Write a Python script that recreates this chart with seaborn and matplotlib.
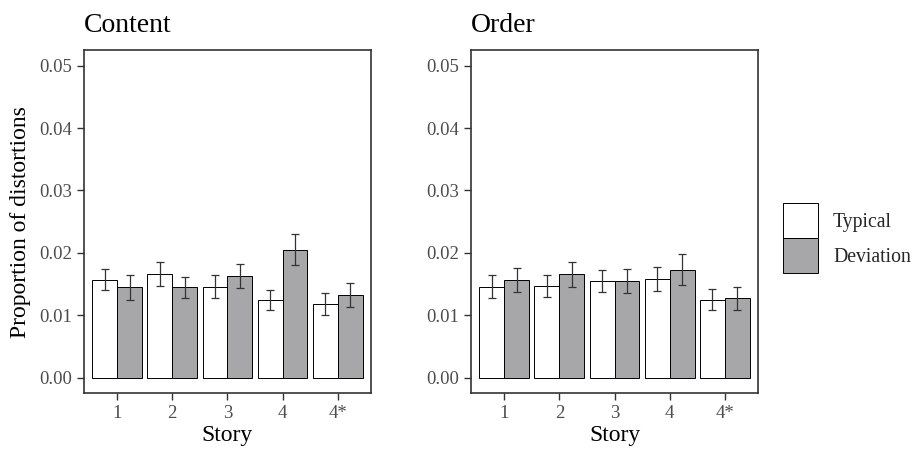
import matplotlib
matplotlib.use("Agg")
import matplotlib.pyplot as plt
import seaborn as sns
import pandas as pd

# values
stories = ["1", "2", "3", "4", "4*"]
conditions = ["Typical", "Deviation"]

content_typical = [0.0157, 0.0166, 0.0146, 0.0125, 0.0118]
content_typical_err = [0.0017, 0.0019, 0.0018, 0.0016, 0.0017]
content_deviation = [0.0145, 0.0145, 0.0163, 0.0205, 0.0133]
content_deviation_err = [0.0020, 0.0017, 0.0019, 0.0025, 0.0019]

order_typical = [0.0146, 0.0147, 0.0155, 0.0158, 0.0125]
order_typical_err = [0.0018, 0.0018, 0.0017, 0.0019, 0.0017]
order_deviation = [0.0157, 0.0166, 0.0155, 0.0173, 0.0127]
order_deviation_err = [0.0019, 0.0020, 0.0019, 0.0025, 0.0018]

panels = {
    "Content": (content_typical, content_typical_err, content_deviation, content_deviation_err),
    "Order": (order_typical, order_typical_err, order_deviation, order_deviation_err),
}


def make_frame(typ, typ_err, dev, dev_err):
    rows = []
    for i, s in enumerate(stories):
        rows.append({"story": s, "condition": "Typical", "prop": typ[i], "se": typ_err[i]})
        rows.append({"story": s, "condition": "Deviation", "prop": dev[i], "se": dev_err[i]})
    return pd.DataFrame(rows)


sns.set_theme(style="white")
plt.rcParams["font.family"] = ["Liberation Serif", "DejaVu Serif"]

frame_col = "#333333"
label_col = "#4D4D4D"
palette = {"Typical": "white", "Deviation": "#A7A7AA"}

fig = plt.figure(figsize=(9.18, 4.51), dpi=100)
ax_w, ax_h = 0.3126, 0.7612
axes = [fig.add_axes([0.0915, 0.1279, ax_w, ax_h]),
        fig.add_axes([0.5131, 0.1279, ax_w, ax_h])]

handles = None
for ax, (title, vals) in zip(axes, panels.items()):
    df = make_frame(*vals)
    sns.barplot(data=df, x="story", y="prop", hue="condition", order=stories,
                hue_order=conditions, palette=palette, width=0.9, errorbar=None,
                edgecolor="black", linewidth=0.7, ax=ax)
    # error bars at the bar centres
    for cont, cond in zip(ax.containers, conditions):
        sub = df[df["condition"] == cond].set_index("story").loc[stories]
        xs = [b.get_x() + b.get_width() / 2 for b in cont]
        ax.errorbar(xs, sub["prop"], yerr=sub["se"], fmt="none",
                    ecolor=frame_col, elinewidth=0.9, capsize=2.6, capthick=0.9)
    handles, labels = ax.get_legend_handles_labels()
    if ax.get_legend() is not None:
        ax.get_legend().remove()

    ax.set_xlim(-0.6, 4.6)
    ax.set_ylim(-0.0025, 0.0525)
    ax.set_yticks([0.0, 0.01, 0.02, 0.03, 0.04, 0.05])
    ax.set_yticklabels(["0.00", "0.01", "0.02", "0.03", "0.04", "0.05"])
    ax.tick_params(axis="both", which="major", length=4.8, width=1.0,
                   color=frame_col, labelcolor=label_col, labelsize=13.5,
                   pad=3.5, left=True, bottom=True)
    for sp in ax.spines.values():
        sp.set_visible(True)
        sp.set_color(frame_col)
        sp.set_linewidth(1.2)
    ax.set_title(title, loc="left", fontsize=20, pad=13, color="black")
    ax.set_xlabel("Story", fontsize=17, color="black", labelpad=2)
    ax.set_ylabel("")
    ax.grid(False)

axes[0].set_ylabel("Proportion of distortions", fontsize=17, color="black", labelpad=6)

fig.legend(handles, conditions, loc="upper left",
           bbox_to_anchor=(783 / 918, 1 - 203 / 451), frameon=False,
           borderpad=0, borderaxespad=0, fontsize=14.2,
           handlelength=1.78, handleheight=2.35, labelspacing=0,
           handletextpad=0.76)

fig.savefig("out.png", dpi=100)
